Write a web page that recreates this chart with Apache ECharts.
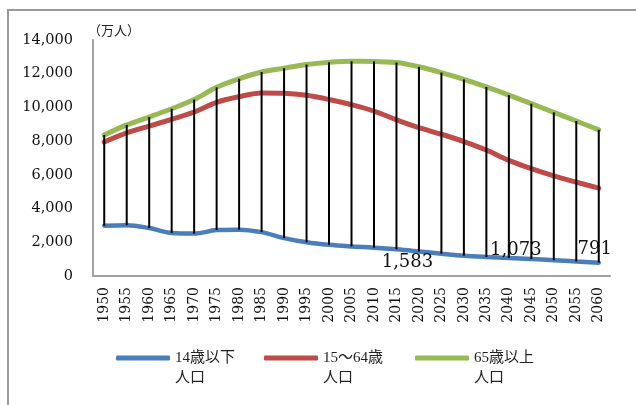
<!DOCTYPE html>
<html>
<head>
<meta charset="utf-8">
<script src="https://cdn.jsdelivr.net/npm/echarts@6/dist/echarts.min.js"></script>
<style>
  html, body { margin: 0; padding: 0; background: #fff; }
  #chart { width: 636px; height: 405px; }
</style>
</head>
<body>
<div id="chart"></div>
<script>
// Population by age group (10,000 persons), stacked
const years = ['1950','1955','1960','1965','1970','1975','1980','1985','1990','1995','2000','2005',
               '2010','2015','2020','2025','2030','2035','2040','2045','2050','2055','2060'];
const under15 = [2979, 3012, 2843, 2553, 2515, 2723, 2751, 2603, 2249, 2001, 1847, 1752,
                 1680, 1583, 1457, 1324, 1204, 1129, 1073, 1012, 939, 861, 791];
const age15to64 = [4966, 5473, 6047, 6744, 7212, 7581, 7884, 8251, 8590, 8716, 8622, 8409,
                   8103, 7682, 7341, 7085, 6773, 6343, 5787, 5353, 5001, 4706, 4418];
const over65 = [416, 479, 540, 624, 739, 887, 1065, 1247, 1489, 1826, 2204, 2576,
                2948, 3395, 3612, 3657, 3685, 3741, 3868, 3856, 3768, 3626, 3464];
const yTicks = [0, 2000, 4000, 6000, 8000, 10000, 12000, 14000];
const seriesNames = ['14歳以下人口', '15～64歳人口', '65歳以上人口'];
const legendTexts = ['14歳以下\n人口', '15～64歳\n人口', '65歳以上\n人口'];
// years whose under-15 value is written on the chart
const labelledYears = ['2015', '2040', '2060'];

const serif = '"DejaVu Serif", "Liberation Serif", serif';
const legendFont = '"Liberation Serif", "Noto Sans CJK JP", serif';
const colors = ['#4a7ebb', '#be4b48', '#98b954'];
const labelOffsets = { '2015': [11, 13], '2040': [7, -8], '2060': [-4, -13] };

// stacked totals for the high-low connectors
const totals = years.map((y, i) => under15[i] + age15to64[i] + over65[i]);
const hiLow = years.map((y, i) => [i, under15[i], totals[i]]);

const fmt = v => v.toLocaleString('en-US');

const under15Data = under15.map((v, i) => {
  const yr = years[i];
  if (labelledYears.indexOf(yr) < 0) return v;
  return {
    value: v,
    symbol: 'circle',
    symbolSize: 2,
    itemStyle: { color: colors[0] },
    label: {
      show: true,
      position: 'inside',
      offset: labelOffsets[yr],
      formatter: p => fmt(p.value),
      fontFamily: serif,
      fontSize: 18,
      color: '#111'
    }
  };
});

function legendAt(idx, left) {
  return {
    data: [seriesNames[idx]],
    left: left,
    top: 328,
    padding: 0,
    itemWidth: 54,
    itemHeight: 5,
    icon: 'roundRect',
    selectedMode: false,
    formatter: () => ' \n' + legendTexts[idx],
    textStyle: { fontFamily: legendFont, fontSize: 15, lineHeight: 20, color: '#222' }
  };
}

const chart = echarts.init(document.getElementById('chart'), null, { renderer: 'canvas' });
chart.setOption({
  animation: false,
  backgroundColor: '#fff',
  color: colors,
  graphic: [{
    type: 'rect',
    shape: { x: 8, y: 10, width: 660, height: 440 },
    style: { fill: 'none', stroke: '#999', lineWidth: 2 },
    silent: true,
    z: -10
  }],
  legend: [legendAt(0, 116), legendAt(1, 264), legendAt(2, 415)],
  grid: { left: 93, right: 26, top: 40, bottom: 129 },
  xAxis: {
    type: 'category',
    data: years,
    boundaryGap: true,
    axisLine: { lineStyle: { color: '#a0a0a0', width: 2 } },
    axisTick: { show: false },
    axisLabel: {
      rotate: 90,
      interval: 0,
      margin: 11,
      fontFamily: serif,
      fontSize: 14,
      color: '#111'
    }
  },
  yAxis: {
    type: 'value',
    min: yTicks[0],
    max: yTicks[yTicks.length - 1],
    interval: 2000,
    name: '（万人）',
    nameLocation: 'end',
    nameGap: 3,
    nameTextStyle: { align: 'left', fontFamily: '"Noto Sans CJK JP", sans-serif', fontSize: 13, color: '#222', padding: [0, 0, 0, -5] },
    axisLine: { show: true, lineStyle: { color: '#a0a0a0', width: 2 } },
    axisTick: { show: false },
    splitLine: { show: false },
    axisLabel: {
      margin: 20,
      fontFamily: serif,
      fontSize: 14.5,
      color: '#111',
      formatter: v => fmt(v)
    }
  },
  series: [
    {
      name: seriesNames[0], type: 'line', stack: 'pop', data: under15Data,
      smooth: 0.35, symbol: 'none', lineStyle: { width: 4.5, color: colors[0], cap: 'round' }, z: 3
    },
    {
      name: seriesNames[1], type: 'line', stack: 'pop', data: age15to64,
      smooth: 0.35, symbol: 'none', lineStyle: { width: 5, color: colors[1], cap: 'round' }, z: 3
    },
    {
      name: seriesNames[2], type: 'line', stack: 'pop', data: over65,
      smooth: 0.35, symbol: 'none', lineStyle: { width: 5, color: colors[2], cap: 'round' }, z: 3
    },
    {
      name: 'hilo', type: 'custom', data: hiLow, z: 5,
      renderItem: (params, api) => {
        const x = api.value(0);
        const lo = api.coord([x, api.value(1)]);
        const hi = api.coord([x, api.value(2)]);
        return {
          type: 'line',
          shape: { x1: lo[0], y1: lo[1], x2: hi[0], y2: hi[1] },
          style: { stroke: '#000', lineWidth: 2 }
        };
      }
    }
  ]
});
</script>
</body>
</html>
